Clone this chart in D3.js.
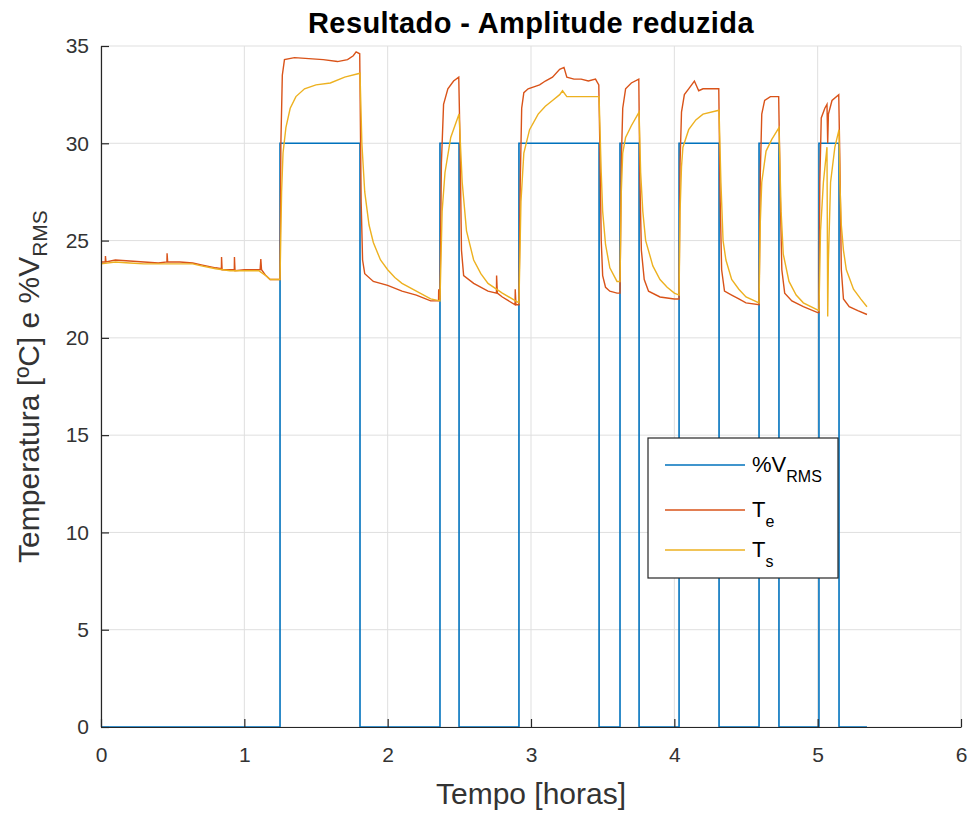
<!DOCTYPE html>
<html>
<head>
<meta charset="utf-8">
<script src="https://cdn.jsdelivr.net/npm/d3@7"></script>
<style>
  body { margin: 0; background: #fff; }
  text { font-family: "Liberation Sans", Arial, sans-serif; }
</style>
</head>
<body>
<div id="chart"></div>
<script>
// %VRMS: switching instants (hours) and level held after each
const vTime = [0, 1.249, 1.807, 2.365, 2.498, 2.916, 3.475, 3.621, 3.754, 4.033, 4.312, 4.591, 4.730, 5.009, 5.149, 5.344]
const vVal  = [0, 30, 0, 30, 0, 30, 0, 30, 0, 30, 0, 30, 0, 30, 0, 0]

// Te (entrada)
const teTime = [0, 0.03, 0.031, 0.035, 0.1, 0.2, 0.3, 0.4, 0.46, 0.461, 0.465, 0.55, 0.64, 0.7, 0.8, 0.84, 0.841, 0.845, 0.93, 0.931, 0.935, 1.0, 1.05, 1.11, 1.115, 1.12, 1.15, 1.18, 1.249,
  1.255, 1.265, 1.28, 1.35, 1.45, 1.55, 1.65, 1.72, 1.76, 1.78, 1.805,
  1.815, 1.825, 1.84, 1.9, 2.0, 2.1, 2.2, 2.3, 2.355, 2.356, 2.36, 2.365,
  2.375, 2.39, 2.42, 2.46, 2.496,
  2.505, 2.515, 2.53, 2.6, 2.7, 2.759, 2.76, 2.765, 2.8, 2.889, 2.89, 2.895, 2.916,
  2.925, 2.935, 2.95, 2.98, 3.02, 3.06, 3.1, 3.15, 3.2, 3.23, 3.25, 3.3, 3.35, 3.4, 3.45, 3.473,
  3.48, 3.49, 3.5, 3.52, 3.55, 3.6, 3.621,
  3.63, 3.64, 3.66, 3.7, 3.752,
  3.76, 3.77, 3.79, 3.82, 3.9, 4.0, 4.033,
  4.04, 4.05, 4.07, 4.1, 4.14, 4.17, 4.2, 4.25, 4.31,
  4.32, 4.33, 4.35, 4.4, 4.45, 4.5, 4.591,
  4.6, 4.61, 4.63, 4.67, 4.728,
  4.74, 4.75, 4.77, 4.82, 4.9, 5.0, 5.009,
  5.015, 5.025, 5.05, 5.065, 5.07, 5.075, 5.1, 5.147,
  5.155, 5.165, 5.18, 5.22, 5.28, 5.344]
const teVal = [23.9, 23.9, 24.2, 23.9, 24.0, 23.95, 23.9, 23.85, 23.9, 24.35, 23.9, 23.9, 23.85, 23.75, 23.6, 23.55, 24.15, 23.5, 23.5, 24.15, 23.45, 23.5, 23.5, 23.5, 24.05, 23.5, 23.2, 23.0, 23.0,
  30.0, 33.5, 34.3, 34.4, 34.35, 34.3, 34.2, 34.3, 34.5, 34.7, 34.6,
  27.0, 24.0, 23.3, 22.9, 22.7, 22.4, 22.2, 21.9, 21.9, 22.5, 22.0, 22.0,
  29.0, 32.0, 32.8, 33.2, 33.4,
  30.0, 24.5, 23.2, 22.8, 22.4, 22.3, 23.2, 22.3, 22.1, 21.7, 22.5, 21.7, 21.7,
  28.0, 31.8, 32.6, 32.8, 32.9, 33.0, 33.2, 33.4, 33.8, 33.9, 33.4, 33.3, 33.3, 33.2, 33.3, 33.0,
  30.0, 25.0, 23.2, 22.6, 22.4, 22.3, 22.3,
  29.0, 31.8, 32.8, 33.1, 33.3,
  28.0, 24.5, 23.0, 22.4, 22.1, 22.0, 22.0,
  29.0, 31.6, 32.5, 32.8, 33.2, 32.7, 32.8, 32.8, 32.8,
  27.0, 23.5, 22.4, 22.2, 22.0, 21.8, 21.7,
  28.5, 31.5, 32.2, 32.4, 32.4,
  27.0, 23.5, 22.3, 21.9, 21.6, 21.3, 21.3,
  28.0, 31.3, 31.8, 32.0, 30.0, 31.5, 32.2, 32.5,
  29.0, 23.5, 22.0, 21.6, 21.4, 21.2]

// Ts (saida)
const tsTime = [0, 0.1, 0.2, 0.3, 0.4, 0.55, 0.64, 0.7, 0.8, 0.9, 1.0, 1.1, 1.15, 1.18, 1.249,
  1.26, 1.27, 1.29, 1.32, 1.36, 1.42, 1.5, 1.6, 1.7, 1.807,
  1.82, 1.84, 1.87, 1.9, 1.95, 2.0, 2.05, 2.1, 2.2, 2.3, 2.365,
  2.38, 2.4, 2.44, 2.498,
  2.52, 2.55, 2.6, 2.65, 2.7, 2.8, 2.916,
  2.93, 2.95, 2.99, 3.05, 3.1, 3.15, 3.2, 3.22, 3.25, 3.3, 3.4, 3.475,
  3.49, 3.5, 3.52, 3.55, 3.6, 3.621,
  3.63, 3.64, 3.66, 3.7, 3.754,
  3.765, 3.78, 3.8, 3.85, 3.9, 3.95, 4.0, 4.033,
  4.04, 4.05, 4.06, 4.1, 4.15, 4.2, 4.312,
  4.325, 4.34, 4.36, 4.4, 4.45, 4.5, 4.591,
  4.6, 4.61, 4.64, 4.68, 4.73,
  4.745, 4.76, 4.8, 4.85, 4.9, 5.009,
  5.02, 5.04, 5.065, 5.07, 5.075, 5.09, 5.12, 5.149,
  5.155, 5.165, 5.18, 5.2, 5.25, 5.3, 5.344]
const tsVal = [23.8, 23.9, 23.85, 23.8, 23.8, 23.8, 23.8, 23.7, 23.55, 23.45, 23.45, 23.45, 23.2, 23.0, 23.0,
  27.5, 29.5, 30.8, 31.8, 32.4, 32.8, 33.0, 33.1, 33.4, 33.6,
  30.0, 27.5, 25.8, 24.9, 24.0, 23.5, 23.1, 22.8, 22.4, 22.0, 21.9,
  26.5, 28.5, 30.3, 31.5,
  28.0, 25.5, 24.0, 23.3, 22.8, 22.3, 21.8,
  27.0, 29.5, 30.7, 31.5, 31.9, 32.2, 32.5, 32.7, 32.4, 32.4, 32.4, 32.4,
  28.5, 26.5, 24.8, 23.6, 22.9, 22.9,
  27.5, 29.5, 30.3, 30.9, 31.6,
  28.5, 26.5, 25.0, 23.7, 23.0, 22.6, 22.3, 22.2,
  26.5, 28.8, 29.8, 30.7, 31.2, 31.5, 31.7,
  28.0, 25.0, 24.0, 23.0, 22.5, 22.1, 21.8,
  26.0, 28.0, 29.6, 30.2, 30.8,
  26.5, 24.3, 22.9, 22.2, 21.8, 21.4,
  25.5, 28.0, 29.8, 21.1, 24.0, 28.0, 29.8, 30.7,
  28.0, 25.8, 24.5, 23.5, 22.5, 22.0, 21.6]

const xTicks = [0, 1, 2, 3, 4, 5, 6]
const yTicks = [0, 5, 10, 15, 20, 25, 30, 35]

const W = 971, H = 814
const margin = {top: 46, right: 10, bottom: 87, left: 101}
const width = W - margin.left - margin.right,
      height = H - margin.top - margin.bottom

const colV = "#0072BD", colTe = "#D95319", colTs = "#EDB120"

const svg = d3.select("#chart").append("svg")
    .attr("width", W).attr("height", H)
    .style("background", "#fff")
const g = svg.append("g")
    .attr("transform", "translate(" + margin.left + "," + margin.top + ")")

const x = d3.scaleLinear().domain([0, 6]).range([0, width])
const y = d3.scaleLinear().domain([0, 35]).range([height, 0])

// grid
g.append("g").selectAll("line").data(xTicks).enter().append("line")
    .attr("x1", d => x(d)).attr("x2", d => x(d))
    .attr("y1", 0).attr("y2", height)
    .attr("stroke", "#dfdfdf").attr("stroke-width", 1)
g.append("g").selectAll("line").data(yTicks).enter().append("line")
    .attr("x1", 0).attr("x2", width)
    .attr("y1", d => y(d)).attr("y2", d => y(d))
    .attr("stroke", "#dfdfdf").attr("stroke-width", 1)

// data lines
const lineStep = d3.line().x(d => x(d[0])).y(d => y(d[1])).curve(d3.curveStepAfter)
const line = d3.line().x(d => x(d[0])).y(d => y(d[1]))

g.append("path")
    .datum(vTime.map((t, i) => [t, vVal[i]]))
    .attr("fill", "none").attr("stroke", colV).attr("stroke-width", 1.6)
    .attr("d", lineStep)
g.append("path")
    .datum(teTime.map((t, i) => [t, teVal[i]]))
    .attr("fill", "none").attr("stroke", colTe).attr("stroke-width", 1.4)
    .attr("d", line)
g.append("path")
    .datum(tsTime.map((t, i) => [t, tsVal[i]]))
    .attr("fill", "none").attr("stroke", colTs).attr("stroke-width", 1.4)
    .attr("d", line)

// axes
const xAxis = g.append("g")
    .attr("transform", "translate(0," + height + ")")
    .call(d3.axisBottom(x).tickValues(xTicks).tickFormat(d3.format("d"))
        .tickSizeInner(-8).tickSizeOuter(0).tickPadding(20))
const yAxis = g.append("g")
    .call(d3.axisLeft(y).tickValues(yTicks).tickFormat(d3.format("d"))
        .tickSizeInner(-8).tickSizeOuter(0).tickPadding(12))
for (const a of [xAxis, yAxis]) {
    a.select(".domain").attr("stroke", "#262626").attr("stroke-width", 1.2)
    a.selectAll(".tick line").attr("stroke", "#262626").attr("stroke-width", 1.2)
    a.selectAll(".tick text").attr("fill", "#333")
        .style("font-size", "21px").style("font-family", "Liberation Sans, Arial, sans-serif")
}

// title and labels
svg.append("text")
    .attr("x", margin.left + width / 2).attr("y", 33)
    .attr("text-anchor", "middle")
    .style("font-size", "29px").style("font-weight", "bold").style("letter-spacing", "0.4px")
    .attr("fill", "#000")
    .text("Resultado - Amplitude reduzida")

svg.append("text")
    .attr("x", margin.left + width / 2).attr("y", 804)
    .attr("text-anchor", "middle")
    .style("font-size", "30px").attr("fill", "#333")
    .text("Tempo [horas]")

const yl = svg.append("text")
    .attr("transform", "translate(39," + (margin.top + height / 2) + ") rotate(-90)")
    .attr("text-anchor", "middle")
    .style("font-size", "30px").attr("fill", "#333")
yl.append("tspan").text("Temperatura [ºC] e %V")
yl.append("tspan").attr("dy", 8).style("font-size", "21px").text("RMS")

// legend
const legend = svg.append("g").attr("transform", "translate(648,438)")
legend.append("rect")
    .attr("width", 190).attr("height", 140)
    .attr("fill", "#fff").attr("stroke", "#262626").attr("stroke-width", 1.2)
const entries = [
    {main: "%V", sub: "RMS", color: colV, yy: 27},
    {main: "T", sub: "e", color: colTe, yy: 72},
    {main: "T", sub: "s", color: colTs, yy: 112}
]
entries.forEach(e => {
    legend.append("line")
        .attr("x1", 17).attr("x2", 97)
        .attr("y1", e.yy).attr("y2", e.yy)
        .attr("stroke", e.color).attr("stroke-width", 1.6)
    const t = legend.append("text")
        .attr("x", 104).attr("y", e.yy + 7)
        .style("font-size", "22px").attr("fill", "#000")
    t.append("tspan").text(e.main)
    t.append("tspan").attr("dy", 10).style("font-size", "16px").text(e.sub)
})
</script>
</body>
</html>
